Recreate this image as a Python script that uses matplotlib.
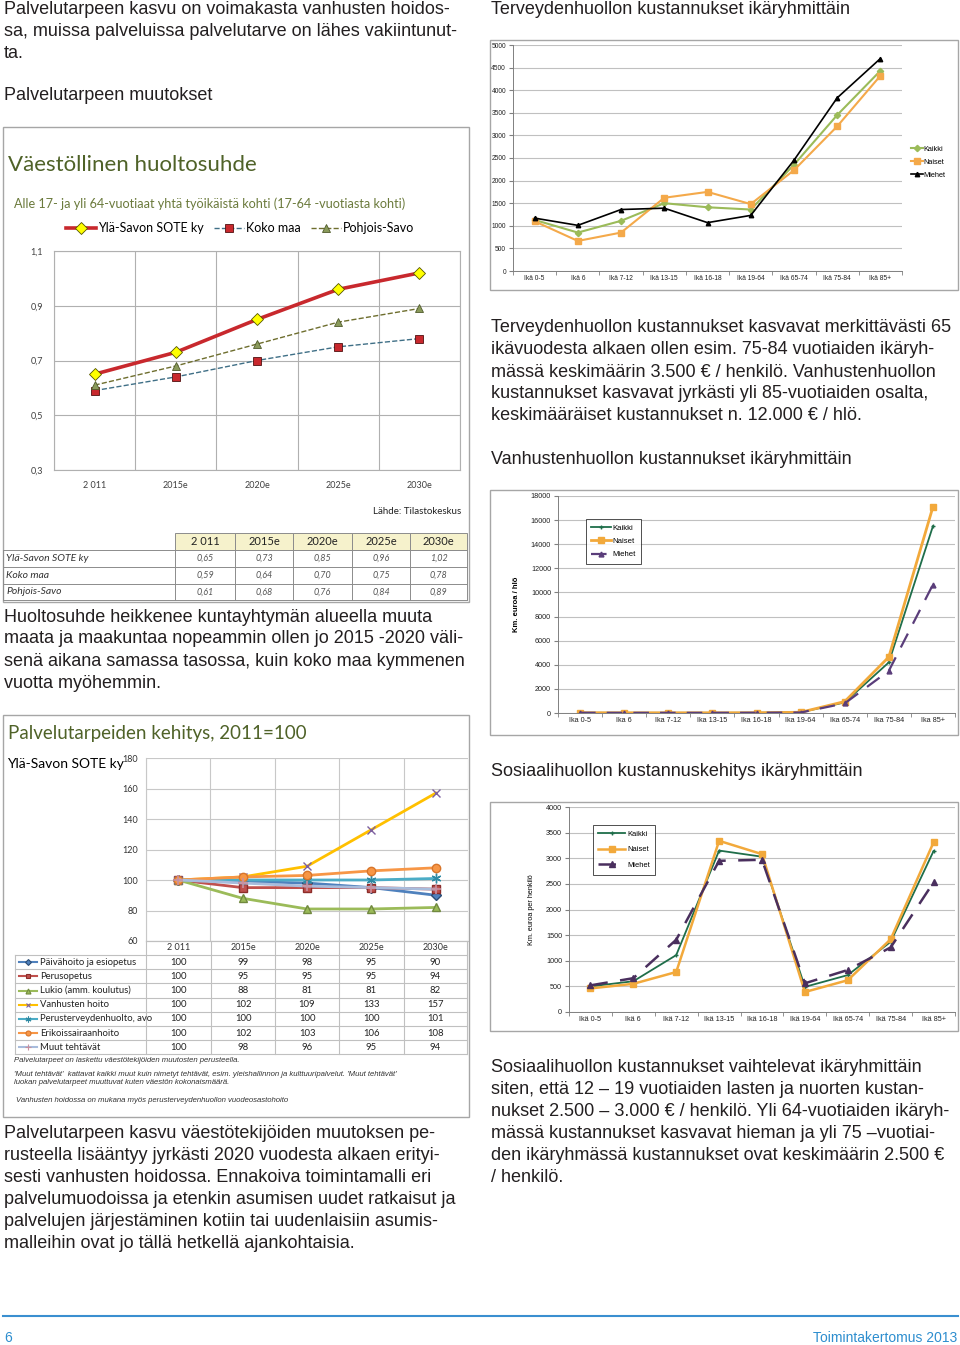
import matplotlib
matplotlib.use("Agg")
import matplotlib.pyplot as plt
from matplotlib.patches import Rectangle
from matplotlib.lines import Line2D
import numpy as np

# --- data ---------------------------------------------------------------
vuodet = ["2 011", "2015e", "2020e", "2025e", "2030e"]
hs_yla = [0.65, 0.73, 0.85, 0.96, 1.02]
hs_koko = [0.59, 0.64, 0.70, 0.75, 0.78]
hs_pohjois = [0.61, 0.68, 0.76, 0.84, 0.89]
hs_nimet = ["Ylä-Savon SOTE ky", "Koko maa", "Pohjois-Savo"]

pt_nimet = ["Päivähoito ja esiopetus", "Perusopetus", "Lukio (amm. koulutus)",
            "Vanhusten hoito", "Perusterveydenhuolto, avo", "Erikoissairaanhoito",
            "Muut tehtävät"]
pt_paivahoito = [100, 99, 98, 95, 90]
pt_perusopetus = [100, 95, 95, 95, 94]
pt_lukio = [100, 88, 81, 81, 82]
pt_vanhukset = [100, 102, 109, 133, 157]
pt_terveys = [100, 100, 100, 100, 101]
pt_erikois = [100, 102, 103, 106, 108]
pt_muut = [100, 98, 96, 95, 94]

ikaryhmat = ["Ikä 0-5", "Ikä 6", "Ikä 7-12", "Ikä 13-15", "Ikä 16-18",
             "Ikä 19-64", "Ikä 65-74", "Ikä 75-84", "Ikä 85+"]
ikaryhmat_b = ["Ika 0-5", "Ika 6", "Ika 7-12", "Ika 13-15", "Ika 16-18",
               "Ika 19-64", "Ika 65-74", "Ika 75-84", "Ika 85+"]
sukup = ["Kaikki", "Naiset", "Miehet"]

tv_kaikki = [1130, 850, 1110, 1500, 1410, 1360, 2350, 3450, 4430]
tv_naiset = [1100, 665, 850, 1620, 1750, 1480, 2230, 3200, 4320]
tv_miehet = [1170, 1010, 1360, 1390, 1070, 1230, 2450, 3830, 4700]

vh_kaikki = [20, 15, 15, 15, 20, 50, 880, 4200, 15500]
vh_naiset = [20, 15, 15, 15, 20, 60, 950, 4650, 17100]
vh_miehet = [20, 15, 15, 15, 20, 40, 800, 3500, 10650]

sh_kaikki = [500, 600, 1110, 3150, 3030, 490, 720, 1370, 3140]
sh_naiset = [460, 550, 780, 3340, 3080, 390, 620, 1420, 3310]
sh_miehet = [520, 660, 1410, 2950, 2970, 560, 820, 1260, 2530]

# --- helpers ------------------------------------------------------------
W, H = 960, 1345
fig = plt.figure(figsize=(W / 100, H / 100), dpi=100)
BODY = "Liberation Sans"
XL = "Lato"
TXT = "#231f20"
OLIVE = "#4f6228"


def add_ax(x0, y0, x1, y1):
    return fig.add_axes([x0 / W, 1 - y1 / H, (x1 - x0) / W, (y1 - y0) / H])


def ftext(x, y, s, **kw):
    kw.setdefault("family", BODY)
    return fig.text(x / W, 1 - y / H, s, **kw)


def box(x0, y0, x1, y1, ec="#a6a6a6", lw=1.0):
    fig.add_artist(Rectangle((x0 / W, 1 - y1 / H), (x1 - x0) / W, (y1 - y0) / H,
                             transform=fig.transFigure, fill=False, ec=ec, lw=lw))


def para(x, y0, lines, step=22, size=13):
    for i, l in enumerate(lines):
        ftext(x, y0 + i * step, l, va="center", fontsize=size, color=TXT)


def hline(x0, x1, y, color="#a6a6a6", lw=0.8):
    fig.add_artist(Line2D([x0 / W, x1 / W], [1 - y / H, 1 - y / H],
                          transform=fig.transFigure, color=color, lw=lw))


def vline(x, y0, y1, color="#a6a6a6", lw=0.8):
    fig.add_artist(Line2D([x / W, x / W], [1 - y0 / H, 1 - y1 / H],
                          transform=fig.transFigure, color=color, lw=lw))


# --- left column texts --------------------------------------------------
para(4, 10, ["Palvelutarpeen kasvu on voimakasta vanhusten hoidos-",
             "sa, muissa palveluissa palvelutarve on lähes vakiintunut-",
             "ta."])
para(4, 96, ["Palvelutarpeen muutokset"])

# --- chart 1: väestöllinen huoltosuhde -----------------------------------
box(3, 127, 469, 602)
ftext(8, 165, "Väestöllinen huoltosuhde", family=XL, fontsize=16, color=OLIVE, va="center")
ftext(14, 204, "Alle 17- ja yli 64-vuotiaat yhtä työikäistä kohti (17-64 -vuotiasta kohti)",
      family=XL, fontsize=9.1, color="#6b7a3c", va="center")

ax1 = add_ax(54, 251, 460, 470)
xi = np.arange(len(vuodet))
l1, = ax1.plot(xi, hs_yla, color="#c8282d", lw=2.6, marker="D", ms=6,
               mfc="#ffff00", mec="#555500", mew=0.6, label=hs_nimet[0])
l2, = ax1.plot(xi, hs_koko, color="#3f6f86", lw=1.0, ls="--", marker="s", ms=6,
               mfc="#c8282d", mec="#501010", mew=0.6, label=hs_nimet[1])
l3, = ax1.plot(xi, hs_pohjois, color="#6e6e2e", lw=1.0, ls="--", marker="^", ms=6,
               mfc="#8a9a5b", mec="#4f5a2a", mew=0.6, label=hs_nimet[2])
ax1.set_xlim(-0.5, len(vuodet) - 0.5)
ax1.set_ylim(0.3, 1.1)
ax1.set_yticks([0.3, 0.5, 0.7, 0.9, 1.1])
ax1.set_yticklabels(["0,3", "0,5", "0,7", "0,9", "1,1"])
ax1.set_xticks(xi)
ax1.set_xticklabels(vuodet)
ax1.set_xticks(np.arange(-0.5, len(vuodet)), minor=True)
ax1.grid(True, which="minor", axis="x", color="#b0b0b0", lw=0.8)
ax1.grid(True, which="major", axis="y", color="#b0b0b0", lw=0.8)
ax1.tick_params(axis="both", which="both", length=0, labelsize=6.5, labelcolor="#404040", pad=8)
for t in ax1.get_xticklabels() + ax1.get_yticklabels():
    t.set_family(XL)
for s in ax1.spines.values():
    s.set_color("#b0b0b0")
    s.set_linewidth(0.8)
fig.legend(handles=[l1, l2, l3], loc="center", bbox_to_anchor=(240 / W, 1 - 228 / H),
           ncol=3, frameon=False, prop={"family": XL, "size": 9}, handlelength=2.4,
           columnspacing=0.8, handletextpad=0.15)
ftext(461, 511, "Lähde: Tilastokeskus", family=XL, fontsize=7, color="#222222",
      ha="right", va="center")

# table 1
cx = [3, 175, 235, 293, 352, 410, 467]
ry = [533, 550, 567, 584, 600]
for j in range(len(vuodet)):
    fig.add_artist(Rectangle((cx[j + 1] / W, 1 - ry[1] / H), (cx[j + 2] - cx[j + 1]) / W,
                             (ry[1] - ry[0]) / H, transform=fig.transFigure,
                             fc="#f6f2cc", ec="#8c8c8c", lw=0.7))
    ftext((cx[j + 1] + cx[j + 2]) / 2, (ry[0] + ry[1]) / 2, vuodet[j], family=XL,
          fontsize=8, color="#222222", ha="center", va="center")
for i in range(1, 4):
    hline(cx[0], cx[-1], ry[i + 1], color="#8c8c8c", lw=0.7)
hline(cx[0], cx[-1], ry[1], color="#8c8c8c", lw=0.7)
for x in cx:
    vline(x, ry[1], ry[-1], color="#8c8c8c", lw=0.7)
for i, (nimi, rivi) in enumerate(zip(hs_nimet, [hs_yla, hs_koko, hs_pohjois])):
    yc = (ry[i + 1] + ry[i + 2]) / 2
    ftext(6, yc, nimi, family=XL, fontsize=7.5, style="italic", color="#333333", va="center")
    for j, v in enumerate(rivi):
        ftext((cx[j + 1] + cx[j + 2]) / 2, yc, f"{v:.2f}".replace(".", ","), family=XL,
              fontsize=6.5, style="italic", color="#555555", ha="center", va="center")

para(4, 617, ["Huoltosuhde heikkenee kuntayhtymän alueella muuta",
              "maata ja maakuntaa nopeammin ollen jo 2015 -2020 väli-",
              "senä aikana samassa tasossa, kuin koko maa kymmenen",
              "vuotta myöhemmin."])

# --- chart 2: palvelutarpeiden kehitys ----------------------------------
box(3, 715, 469, 1117)
ax2 = add_ax(146, 758, 468, 941)
pt_sarjat = [pt_paivahoito, pt_perusopetus, pt_lukio, pt_vanhukset, pt_terveys,
             pt_erikois, pt_muut]
pt_tyyli = [
    dict(color="#4f81bd", marker="D", mfc="#4f81bd", mec="#2c4d75", ms=5),
    dict(color="#c0504d", marker="s", mfc="#c0504d", mec="#8c2d2a", ms=6),
    dict(color="#9bbb59", marker="^", mfc="#9bbb59", mec="#71893f", ms=6),
    dict(color="#ffc000", marker="x", mfc="#7d60a0", mec="#7d60a0", ms=6, mew=1.0),
    dict(color="#4bacc6", marker=(6, 2, 0), mfc="#4bacc6", mec="#2f8aa3", ms=7, mew=1.0),
    dict(color="#f79646", marker="o", mfc="#f79646", mec="#d8752a", ms=6),
    dict(color="#a8bcdc", marker="+", mfc="#c890a0", mec="#c890a0", ms=7, mew=1.2),
]
for sarja, st in zip(pt_sarjat, pt_tyyli):
    ax2.plot(xi, sarja, lw=2.0, **st)
ax2.set_xlim(-0.5, len(vuodet) - 0.5)
ax2.set_ylim(60, 180)
ax2.set_yticks(np.arange(60, 181, 20))
ax2.set_xticks(np.arange(-0.5, len(vuodet)))
ax2.set_xticklabels([])
ax2.grid(True, axis="both", color="#c8c8c8", lw=0.8)
ax2.tick_params(axis="both", length=0, labelsize=6.5, labelcolor="#333333", pad=6)
for t in ax2.get_yticklabels():
    t.set_family(XL)
for k, s in ax2.spines.items():
    s.set_color("#c8c8c8")
    s.set_linewidth(0.8)
ax2.spines["top"].set_visible(False)
ax2.spines["right"].set_visible(False)
ftext(8, 733, "Palvelutarpeiden kehitys, 2011=100", family=XL, fontsize=13.5,
      color=OLIVE, va="center")
ftext(7, 764, "Ylä-Savon SOTE ky", family=XL, fontsize=10, color="#000000", va="center")

# table 2 (Excel data table)
tx = [15, 146, 211, 275, 339, 404, 467]
t_top, t_head, t_row = 941, 955, 14.2
for j in range(len(vuodet)):
    ftext((tx[j + 1] + tx[j + 2]) / 2, (t_top + t_head) / 2, vuodet[j], family=XL,
          fontsize=6.5, color="#333333", ha="center", va="center")
n = len(pt_nimet)
t_bot = t_head + n * t_row
for x in tx[1:]:
    vline(x, t_top, t_bot, color="#c0c0c0")
vline(tx[0], t_head, t_bot, color="#c0c0c0")
hline(tx[1], tx[-1], t_top, color="#c0c0c0")
for i in range(n + 1):
    hline(tx[0], tx[-1], t_head + i * t_row, color="#c0c0c0")
for i, (nimi, sarja, st) in enumerate(zip(pt_nimet, pt_sarjat, pt_tyyli)):
    yc = t_head + (i + 0.5) * t_row
    fig.add_artist(Line2D([19 / W, 37 / W], [1 - yc / H, 1 - yc / H], transform=fig.transFigure,
                          color=st["color"], lw=1.5))
    fig.add_artist(Line2D([28 / W], [1 - yc / H], transform=fig.transFigure, ls="none",
                          marker=st["marker"], mfc=st["mfc"], mec=st["mec"],
                          ms=st["ms"] * 0.6, mew=0.8))
    ftext(40, yc, nimi, family=XL, fontsize=6.8, color="#222222", va="center")
    for j, v in enumerate(sarja):
        ftext((tx[j + 1] + tx[j + 2]) / 2, yc, str(v), family=XL, fontsize=6.8,
              color="#222222", ha="center", va="center")

fn = dict(fontsize=5.6, style="italic", color="#333333", va="center")
ftext(14, 1060, "Palvelutarpeet on laskettu väestötekijöiden muutosten perusteella.", **fn)
ftext(14, 1074, "'Muut tehtävät'  kattavat kaikki muut kuin nimetyt tehtävät, esim. yleishallinnon ja kulttuuripalvelut. 'Muut tehtävät'", **fn)
ftext(14, 1083, "luokan palvelutarpeet muuttuvat kuten väestön kokonaismäärä.", **fn)
ftext(16, 1101, "Vanhusten hoidossa on mukana myös perusterveydenhuollon vuodeosastohoito", **fn)

para(4, 1133, ["Palvelutarpeen kasvu väestötekijöiden muutoksen pe-",
               "rusteella lisääntyy jyrkästi 2020 vuodesta alkaen erityi-",
               "sesti vanhusten hoidossa. Ennakoiva toimintamalli eri",
               "palvelumuodoissa ja etenkin asumisen uudet ratkaisut ja",
               "palvelujen järjestäminen kotiin tai uudenlaisiin asumis-",
               "malleihin ovat jo tällä hetkellä ajankohtaisia."])

# --- right column -------------------------------------------------------
xa = np.arange(len(ikaryhmat))


def style_cost_ax(ax, ymax, step, labels, fs=5.2):
    ax.set_xlim(-0.5, len(labels) - 0.5)
    ax.set_ylim(0, ymax)
    ax.set_yticks(np.arange(0, ymax + 1, step))
    ax.set_xticks(xa)
    ax.set_xticklabels(labels)
    ax.set_xticks(np.arange(-0.5, len(labels)), minor=True)
    ax.grid(True, axis="y", color="#c0c0c0", lw=0.8)
    ax.set_axisbelow(True)
    ax.tick_params(axis="x", which="major", length=0, labelsize=fs, labelcolor="#222222", pad=3)
    ax.tick_params(axis="x", which="minor", length=3, color="#808080")
    ax.tick_params(axis="y", length=3, color="#808080", labelsize=fs, labelcolor="#222222", pad=2)
    for t in ax.get_xticklabels() + ax.get_yticklabels():
        t.set_family(BODY)
    ax.spines["top"].set_visible(False)
    ax.spines["right"].set_visible(False)
    ax.spines["left"].set_color("#808080")
    ax.spines["bottom"].set_color("#808080")
    ax.spines["left"].set_linewidth(0.7)
    ax.spines["bottom"].set_linewidth(0.7)


para(491, 10, ["Terveydenhuollon kustannukset ikäryhmittäin"])

# chart 3: terveydenhuolto
box(490, 40, 958, 290)
ax3 = add_ax(513, 45, 902, 271)
h1, = ax3.plot(xa, tv_kaikki, color="#9bbb59", lw=1.5, marker="D", ms=3.2, label=sukup[0])
h2, = ax3.plot(xa, tv_naiset, color="#f4a94a", lw=1.5, marker="s", ms=4.5, label=sukup[1])
h3, = ax3.plot(xa, tv_miehet, color="#000000", lw=1.2, marker="^", ms=3.2, label=sukup[2])
style_cost_ax(ax3, 5000, 500, ikaryhmat, fs=4.8)
fig.legend(handles=[h1, h2, h3], loc="center left", bbox_to_anchor=(908 / W, 1 - 162 / H),
           frameon=False, prop={"family": BODY, "size": 5.3}, handlelength=1.6,
           handletextpad=0.1, labelspacing=0.8, borderaxespad=0)

para(491, 328, ["Terveydenhuollon kustannukset kasvavat merkittävästi 65",
                "ikävuodesta alkaen ollen esim. 75-84 vuotiaiden ikäryh-",
                "mässä keskimäärin 3.500 € / henkilö. Vanhustenhuollon",
                "kustannukset kasvavat jyrkästi yli 85-vuotiaiden osalta,",
                "keskimääräiset kustannukset n. 12.000 € / hlö."])
para(491, 459, ["Vanhustenhuollon kustannukset ikäryhmittäin"])

# chart 4: vanhustenhuolto
box(490, 490, 958, 735)
ax4 = add_ax(558, 496, 955, 713)
g1, = ax4.plot(xa, vh_kaikki, color="#1f6e4a", lw=1.3, marker="+", ms=3.5, mew=1.0, label=sukup[0])
g2, = ax4.plot(xa, vh_naiset, color="#f2a93b", lw=2.0, marker="s", ms=4.5, label=sukup[1])
g3, = ax4.plot(xa, vh_miehet, color="#5a3d7a", lw=1.6, ls=(0, (7, 5)), marker="^", ms=3.5,
               label=sukup[2])
style_cost_ax(ax4, 18000, 2000, ikaryhmat_b)
ax4.set_ylabel("Km. euroa / hlö", family=BODY, fontsize=5.5, fontweight="bold", labelpad=8)
lg4 = ax4.legend(handles=[g1, g2, g3], loc="upper left", bbox_to_anchor=(0.06, 0.91),
                 frameon=True, fancybox=False, edgecolor="#000000",
                 prop={"family": BODY, "size": 5.6}, handlelength=2.6, handletextpad=0.2,
                 labelspacing=0.75, borderpad=0.65)
lg4.get_frame().set_linewidth(0.6)

para(491, 771, ["Sosiaalihuollon kustannuskehitys ikäryhmittäin"])

# chart 5: sosiaalihuolto
box(490, 802, 958, 1031)
ax5 = add_ax(569, 807, 955, 1012)
k1, = ax5.plot(xa, sh_kaikki, color="#1f6e4a", lw=1.3, marker="+", ms=3.5, mew=1.0, label=sukup[0])
k2, = ax5.plot(xa, sh_naiset, color="#f2a93b", lw=1.8, marker="s", ms=5, label=sukup[1])
k3, = ax5.plot(xa, sh_miehet, color="#4a2f5e", lw=1.8, ls=(0, (7, 5)), marker="^", ms=4,
               label=sukup[2])
style_cost_ax(ax5, 4000, 500, ikaryhmat)
ax5.set_ylabel("Km. euroa per henkilö", family=BODY, fontsize=5.2, labelpad=8)
lg5 = ax5.legend(handles=[k1, k2, k3], loc="upper left", bbox_to_anchor=(0.052, 0.93),
                 frameon=True, fancybox=False, edgecolor="#000000",
                 prop={"family": BODY, "size": 5.4}, handlelength=3.6, handletextpad=0.2,
                 labelspacing=1.1, borderpad=0.75)
lg5.get_frame().set_linewidth(0.6)

para(491, 1068, ["Sosiaalihuollon kustannukset vaihtelevat ikäryhmittäin",
                 "siten, että 12 – 19 vuotiaiden lasten ja nuorten kustan-",
                 "nukset 2.500 – 3.000 € / henkilö. Yli 64-vuotiaiden ikäryh-",
                 "mässä kustannukset kasvavat hieman ja yli 75 –vuotiai-",
                 "den ikäryhmässä kustannukset ovat keskimäärin 2.500 €",
                 "/ henkilö."])

# --- footer -------------------------------------------------------------
hline(3, 958, 1316, color="#3a8fd0", lw=1.5)
ftext(4, 1338, "6", fontsize=10, color="#2d8ecf", va="center")
ftext(957, 1338, "Toimintakertomus 2013", fontsize=10, color="#2d8ecf", va="center", ha="right")

fig.savefig("out.png", dpi=100)
